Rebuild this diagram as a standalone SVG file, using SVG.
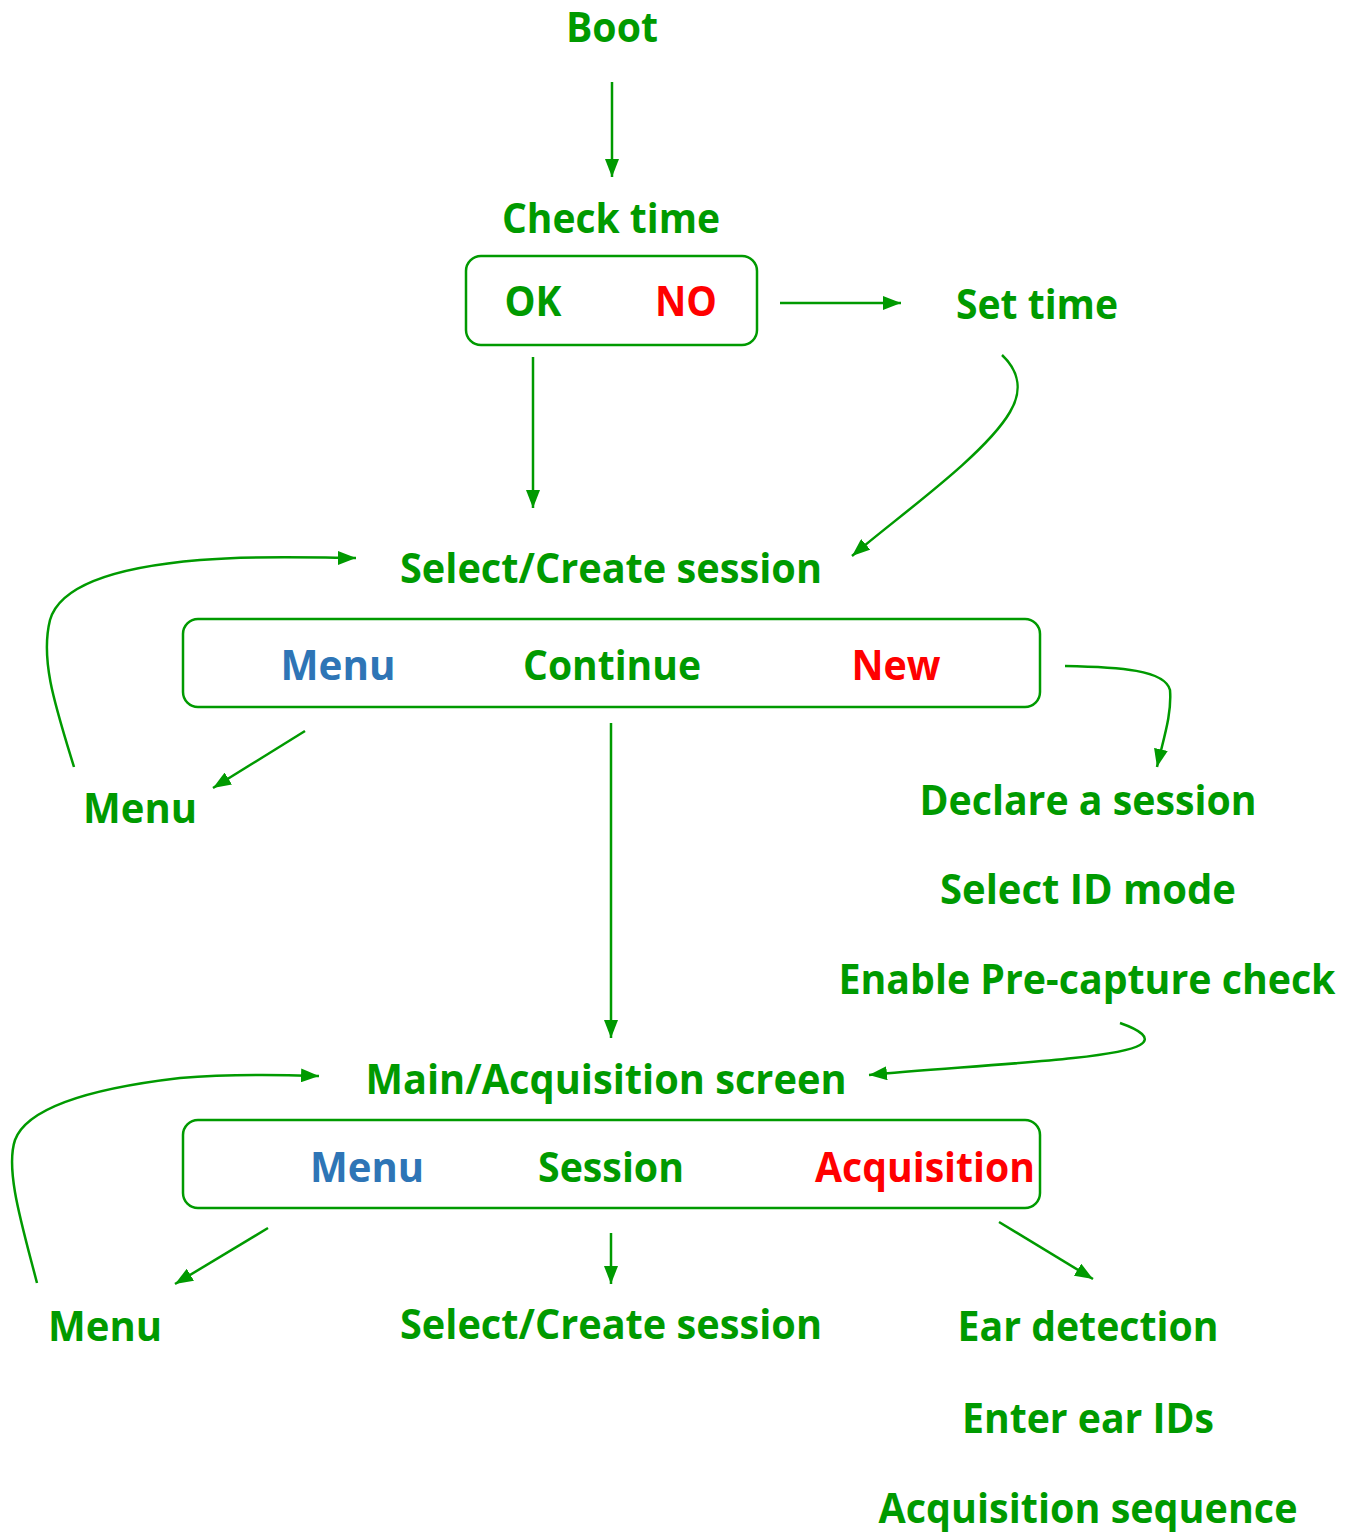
<svg xmlns="http://www.w3.org/2000/svg" width="1354" height="1532" viewBox="0 0 1354 1532">
<style>
text{font-family:"Open Sans","Liberation Sans",sans-serif;font-weight:bold;font-size:41px;text-anchor:middle}
.g{fill:#009A00}.b{fill:#2E75B6}.r{fill:#FF0000}
.box{fill:none;stroke:#009A00;stroke-width:2.5}
.c path{fill:none;stroke:#009A00;stroke-width:2.5}
</style>
<defs>
<marker id="ah" viewBox="0 0 18 14" refX="18" refY="7" markerWidth="18" markerHeight="14" markerUnits="userSpaceOnUse" orient="auto">
<path d="M0,0 L18,7 L0,14 Z" fill="#009A00"/>
</marker>
</defs>
<rect width="1354" height="1532" fill="#fff"/>
<g id="boot"><text class="g" x="612" y="42" textLength="92" lengthAdjust="spacingAndGlyphs">Boot</text></g>
<g id="check-time">
<text class="g" x="611" y="233" textLength="218" lengthAdjust="spacingAndGlyphs">Check time</text>
<rect class="box" x="466" y="256" width="291" height="89" rx="15"/>
<text class="g" x="533" y="316" textLength="57" lengthAdjust="spacingAndGlyphs">OK</text>
<text class="r" x="686" y="316" textLength="62" lengthAdjust="spacingAndGlyphs">NO</text>
</g>
<g id="set-time"><text class="g" x="1037" y="319" textLength="162" lengthAdjust="spacingAndGlyphs">Set time</text></g>
<g id="select-session">
<text class="g" x="611" y="583" textLength="422" lengthAdjust="spacingAndGlyphs">Select/Create session</text>
<rect class="box" x="183" y="619" width="857" height="88" rx="15"/>
<text class="b" x="338" y="680" textLength="115" lengthAdjust="spacingAndGlyphs">Menu</text>
<text class="g" x="612" y="680" textLength="178" lengthAdjust="spacingAndGlyphs">Continue</text>
<text class="r" x="896" y="680" textLength="89" lengthAdjust="spacingAndGlyphs">New</text>
</g>
<g id="menu1"><text class="g" x="140" y="823" textLength="114" lengthAdjust="spacingAndGlyphs">Menu</text></g>
<g id="declare">
<text class="g" x="1088" y="815" textLength="337" lengthAdjust="spacingAndGlyphs">Declare a session</text>
<text class="g" x="1088" y="904" textLength="296" lengthAdjust="spacingAndGlyphs">Select ID mode</text>
<text class="g" x="1087" y="994" font-size="40" textLength="497" lengthAdjust="spacingAndGlyphs">Enable Pre-capture check</text>
</g>
<g id="main-screen">
<text class="g" x="606" y="1094" textLength="481" lengthAdjust="spacingAndGlyphs">Main/Acquisition screen</text>
<rect class="box" x="183" y="1120" width="857" height="88" rx="15"/>
<text class="b" x="367" y="1182" textLength="114" lengthAdjust="spacingAndGlyphs">Menu</text>
<text class="g" x="611" y="1182" textLength="146" lengthAdjust="spacingAndGlyphs">Session</text>
<text class="r" x="925" y="1182" textLength="220" lengthAdjust="spacingAndGlyphs">Acquisition</text>
</g>
<g id="menu2"><text class="g" x="105" y="1341" textLength="114" lengthAdjust="spacingAndGlyphs">Menu</text></g>
<g id="select-session2"><text class="g" x="611" y="1339" textLength="422" lengthAdjust="spacingAndGlyphs">Select/Create session</text></g>
<g id="acq">
<text class="g" x="1088" y="1341" textLength="261" lengthAdjust="spacingAndGlyphs">Ear detection</text>
<text class="g" x="1088" y="1433" textLength="252" lengthAdjust="spacingAndGlyphs">Enter ear IDs</text>
<text class="g" x="1088" y="1523" textLength="419" lengthAdjust="spacingAndGlyphs">Acquisition sequence</text>
</g>
<g id="connectors" class="c">
<path d="M612,82 L612,177" marker-end="url(#ah)"/>
<path d="M780,303 L901,303" marker-end="url(#ah)"/>
<path d="M533,357 L533,508" marker-end="url(#ah)"/>
<path d="M1002,355 C1020,372 1022,392 1010,412 C985,455 900,515 852,556" marker-end="url(#ah)"/>
<path d="M74,767 C55,705 40,660 50,620 C62,578 140,565 200,560 C260,555 320,558 356,558" marker-end="url(#ah)"/>
<path d="M305,731 L213,788" marker-end="url(#ah)"/>
<path d="M1065,666 C1120,667 1165,670 1170,690 C1172,715 1163,740 1157,767" marker-end="url(#ah)"/>
<path d="M611,723 L611,1038" marker-end="url(#ah)"/>
<path d="M1120,1023 C1140,1030 1152,1038 1140,1045 C1115,1060 960,1066 869,1075" marker-end="url(#ah)"/>
<path d="M37,1283 C22,1225 5,1170 15,1140 C30,1100 120,1085 180,1078 C240,1073 290,1075 319,1076" marker-end="url(#ah)"/>
<path d="M268,1228 L175,1284" marker-end="url(#ah)"/>
<path d="M611,1233 L611,1284" marker-end="url(#ah)"/>
<path d="M999,1222 L1093,1279" marker-end="url(#ah)"/>
</g>
</svg>
